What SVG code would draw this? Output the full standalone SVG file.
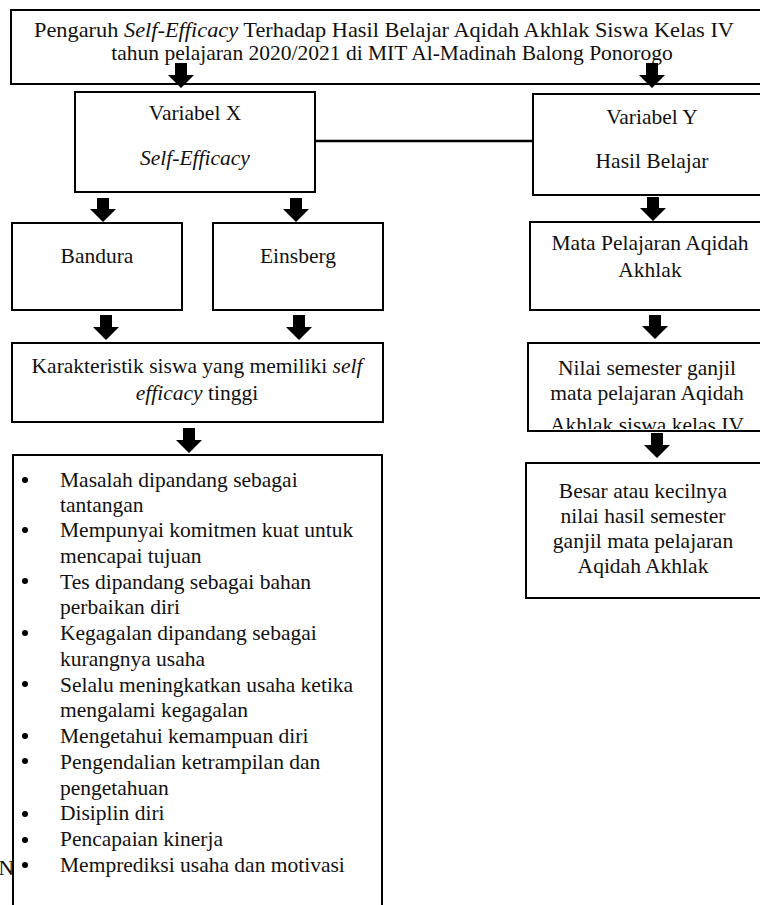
<svg xmlns="http://www.w3.org/2000/svg" width="760" height="905" viewBox="0 0 760 905">
<style>
.box{fill:#fff;stroke:#000;stroke-width:2}
.t{font-family:"Liberation Serif","Times New Roman",serif;font-size:21.5px;fill:#111}
.c{text-anchor:middle}
.i{font-style:italic}
.arr{fill:#000}
.ln{stroke:#000;stroke-width:2.5;fill:none}
</style>
<defs>
<clipPath id="clipNilai"><rect x="528" y="343" width="240" height="86"/></clipPath>
</defs>
<rect width="760" height="905" fill="#fff"/>
<text class="t" x="14" y="875" text-anchor="end">AN</text>

<g id="title">
<rect class="box" x="11" y="10" width="760" height="74"/>
<text class="t c" x="384" y="37" textLength="700" lengthAdjust="spacingAndGlyphs">Pengaruh <tspan class="i">Self-Efficacy</tspan> Terhadap Hasil Belajar Aqidah Akhlak Siswa Kelas IV</text>
<text class="t c" x="392" y="60">tahun pelajaran 2020/2021 di MIT Al-Madinah Balong Ponorogo</text>
</g>

<g id="connectors">
<line class="ln" x1="315" y1="141" x2="533" y2="141"/>
</g>

<g id="varX">
<rect class="box" x="75" y="92" width="240" height="100"/>
<text class="t c" x="195" y="120">Variabel X</text>
<text class="t c i" x="195" y="165">Self-Efficacy</text>
</g>

<g id="varY">
<rect class="box" x="533" y="94" width="240" height="101"/>
<text class="t c" x="652" y="124">Variabel Y</text>
<text class="t c" x="652" y="168">Hasil Belajar</text>
</g>

<g id="bandura">
<rect class="box" x="12" y="223" width="170" height="87"/>
<text class="t c" x="97" y="263">Bandura</text>
</g>

<g id="einsberg">
<rect class="box" x="213" y="223" width="170" height="87"/>
<text class="t c" x="298" y="263">Einsberg</text>
</g>

<g id="mapel">
<rect class="box" x="530" y="222" width="240" height="88"/>
<text class="t c" x="650" y="250">Mata Pelajaran Aqidah</text>
<text class="t c" x="650" y="277">Akhlak</text>
</g>

<g id="karakteristik">
<rect class="box" x="12" y="343" width="371" height="79"/>
<text class="t c" x="197" y="373">Karakteristik siswa yang memiliki <tspan class="i">self</tspan></text>
<text class="t c" x="197" y="400"><tspan class="i">efficacy</tspan> tinggi</text>
</g>

<g id="nilai">
<rect class="box" x="528" y="343" width="240" height="88"/>
<g clip-path="url(#clipNilai)">
<text class="t c" x="647" y="375">Nilai semester ganjil</text>
<text class="t c" x="647" y="400">mata pelajaran Aqidah</text>
<text class="t c" x="647" y="432">Akhlak siswa kelas IV</text>
</g>
</g>

<g id="besar">
<rect class="box" x="526" y="463" width="244" height="135"/>
<text class="t c" x="643" y="498">Besar atau kecilnya</text>
<text class="t c" x="643" y="523">nilai hasil semester</text>
<text class="t c" x="643" y="548">ganjil mata pelajaran</text>
<text class="t c" x="643" y="573">Aqidah Akhlak</text>
</g>

<g id="daftar">
<rect class="box" x="13" y="455" width="369" height="470"/>
<g class="arr">
<circle cx="25" cy="480" r="3"/>
<circle cx="25" cy="530" r="3"/>
<circle cx="25" cy="581" r="3"/>
<circle cx="25" cy="633" r="3"/>
<circle cx="25" cy="684" r="3"/>
<circle cx="25" cy="736" r="3"/>
<circle cx="25" cy="761" r="3"/>
<circle cx="25" cy="814" r="3"/>
<circle cx="25" cy="840" r="3"/>
<circle cx="25" cy="865" r="3"/>
</g>
<text class="t" x="60" y="487">Masalah dipandang sebagai</text>
<text class="t" x="60" y="512">tantangan</text>
<text class="t" x="60" y="537">Mempunyai komitmen kuat untuk</text>
<text class="t" x="60" y="563">mencapai tujuan</text>
<text class="t" x="60" y="589">Tes dipandang sebagai bahan</text>
<text class="t" x="60" y="614">perbaikan diri</text>
<text class="t" x="60" y="640">Kegagalan dipandang sebagai</text>
<text class="t" x="60" y="666">kurangnya usaha</text>
<text class="t" x="60" y="692">Selalu meningkatkan usaha ketika</text>
<text class="t" x="60" y="717">mengalami kegagalan</text>
<text class="t" x="60" y="743">Mengetahui kemampuan diri</text>
<text class="t" x="60" y="769">Pengendalian ketrampilan dan</text>
<text class="t" x="60" y="795">pengetahuan</text>
<text class="t" x="60" y="820">Disiplin diri</text>
<text class="t" x="60" y="846">Pencapaian kinerja</text>
<text class="t" x="60" y="872">Memprediksi usaha dan motivasi</text>
</g>

<g id="arrows" class="arr">
<path d="M175,63H187V75H194L181,88L168,75H175Z"/>
<path d="M646,63H658V75H665L652,88L639,75H646Z"/>
<path d="M97,198H109V209H116L103,222L90,209H97Z"/>
<path d="M290,198H302V209H309L296,222L283,209H290Z"/>
<path d="M647,197H659V208H666L653,221L640,208H647Z"/>
<path d="M100,315H112V327H119L106,340L93,327H100Z"/>
<path d="M293,315H305V327H312L299,340L286,327H293Z"/>
<path d="M649,315H661V326H668L655,339L642,326H649Z"/>
<path d="M183,428H195V440H202L189,453L176,440H183Z"/>
<path d="M651,433H663V445H670L657,458L644,445H651Z"/>
</g>
</svg>
